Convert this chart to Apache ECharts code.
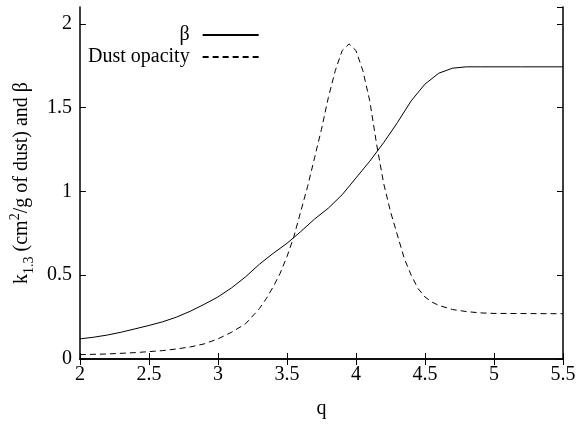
<!DOCTYPE html>
<html>
<head>
<meta charset="utf-8">
<script src="https://cdn.jsdelivr.net/npm/echarts@6/dist/echarts.min.js"></script>
<style>
html, body { margin: 0; padding: 0; background: #fff; }
#chart { width: 581px; height: 424px; }
</style>
</head>
<body>
<div id="chart"></div>
<script>
// beta (solid)
var qBeta = [2.0, 2.1, 2.2, 2.3, 2.4, 2.5, 2.6, 2.7, 2.8, 2.9, 3.0, 3.1, 3.2, 3.3, 3.4, 3.5, 3.6, 3.7, 3.8, 3.9,
	4.0, 4.1, 4.2, 4.3, 4.4, 4.5, 4.6, 4.7, 4.8, 4.9, 5.0, 5.2, 5.5];
var beta = [0.12, 0.13, 0.143, 0.16, 0.18, 0.20, 0.222, 0.25, 0.285, 0.326, 0.37, 0.425, 0.49, 0.565, 0.63, 0.69, 0.76, 0.835, 0.90, 0.98,
	1.08, 1.18, 1.29, 1.41, 1.54, 1.64, 1.705, 1.735, 1.743, 1.743, 1.743, 1.743, 1.743];

// dust opacity (dashed)
var qDust = [2.0, 2.2, 2.4, 2.5, 2.6, 2.7, 2.8, 2.9, 3.0, 3.1, 3.2, 3.3, 3.35, 3.4, 3.45, 3.5, 3.55, 3.6, 3.65, 3.7,
	3.75, 3.8, 3.85, 3.9, 3.95, 4.0, 4.05, 4.1, 4.15, 4.2, 4.25, 4.3, 4.35, 4.4, 4.45, 4.5, 4.55, 4.6, 4.7, 4.8,
	4.9, 5.0, 5.5];
var dust = [0.026, 0.03, 0.038, 0.044, 0.05, 0.06, 0.072, 0.09, 0.12, 0.16, 0.21, 0.30, 0.36, 0.43, 0.51, 0.61, 0.73, 0.88, 1.03, 1.20,
	1.37, 1.56, 1.72, 1.84, 1.88, 1.84, 1.72, 1.54, 1.28, 1.05, 0.88, 0.74, 0.60, 0.50, 0.42, 0.37, 0.34, 0.32, 0.295, 0.283,
	0.275, 0.272, 0.27];

var legendNames = ['β', 'Dust opacity'];

function pairs(xs, ys) {
	return xs.map(function (x, i) { return [x, ys[i]]; });
}

var font = "'Liberation Serif', 'Times New Roman', serif";
var axisLine = { lineStyle: { color: '#000', width: 1.5 } };
var tickIn = { inside: true, length: 6, lineStyle: { color: '#000', width: 1 } };

var myChart = echarts.init(document.getElementById('chart'));
myChart.setOption({
	animation: false,
	textStyle: { fontFamily: font },
	grid: { left: 78, right: 18, top: 7, bottom: 65, containLabel: false },
	legend: {
		data: legendNames,
		orient: 'vertical',
		align: 'right',
		left: 83,
		top: 20,
		itemWidth: 56,
		itemHeight: 14,
		itemGap: 2,
		itemStyle: { opacity: 0 },
		textStyle: { fontFamily: font, fontSize: 20, color: '#000', padding: [0, 8, 0, 0] }
	},
	xAxis: [{
		type: 'value', min: 2, max: 5.5, interval: 0.5,
		name: 'q', nameLocation: 'middle', nameGap: 40,
		nameTextStyle: { fontFamily: font, fontSize: 20, color: '#000' },
		axisLine: axisLine, axisTick: tickIn,
		axisLabel: { color: '#000', fontFamily: font, fontSize: 20, margin: 6 },
		splitLine: { show: false }
	}, {
		type: 'value', min: 2, max: 5.5, interval: 0.5, position: 'top',
		axisLine: axisLine, axisTick: tickIn,
		axisLabel: { show: false }, splitLine: { show: false }
	}],
	yAxis: [{
		type: 'value', min: 0, max: 2.1, interval: 0.5,
		name: '{n|k}{sub|1.3}{n| (cm}{sup|2}{n|/g of dust) and β}',
		nameLocation: 'middle', nameGap: 35,
		nameTextStyle: {
			color: '#000',
			rich: {
				n: { fontFamily: font, fontSize: 20, lineHeight: 28, color: '#000' },
				sub: { fontFamily: font, fontSize: 14, lineHeight: 14, verticalAlign: 'bottom', color: '#000' },
				sup: { fontFamily: font, fontSize: 14, lineHeight: 14, verticalAlign: 'top', color: '#000' }
			}
		},
		axisLine: axisLine, axisTick: tickIn,
		axisLabel: { color: '#000', fontFamily: font, fontSize: 20, margin: 8, showMaxLabel: false },
		splitLine: { show: false }
	}, {
		type: 'value', min: 0, max: 2.1, interval: 0.5, position: 'right',
		axisLine: axisLine, axisTick: tickIn,
		axisLabel: { show: false }, splitLine: { show: false }
	}],
	series: [{
		name: legendNames[0],
		type: 'line',
		data: pairs(qBeta, beta),
		symbol: 'none',
		lineStyle: { color: '#000', width: 1, type: 'solid' },
		itemStyle: { color: '#000' }
	}, {
		name: legendNames[1],
		type: 'line',
		data: pairs(qDust, dust),
		symbol: 'none',
		lineStyle: { color: '#000', width: 1, type: [6, 4] },
		itemStyle: { color: '#000' }
	}]
});
window.addEventListener('resize', function () {
	myChart.resize();
});
</script>
</body>
</html>
